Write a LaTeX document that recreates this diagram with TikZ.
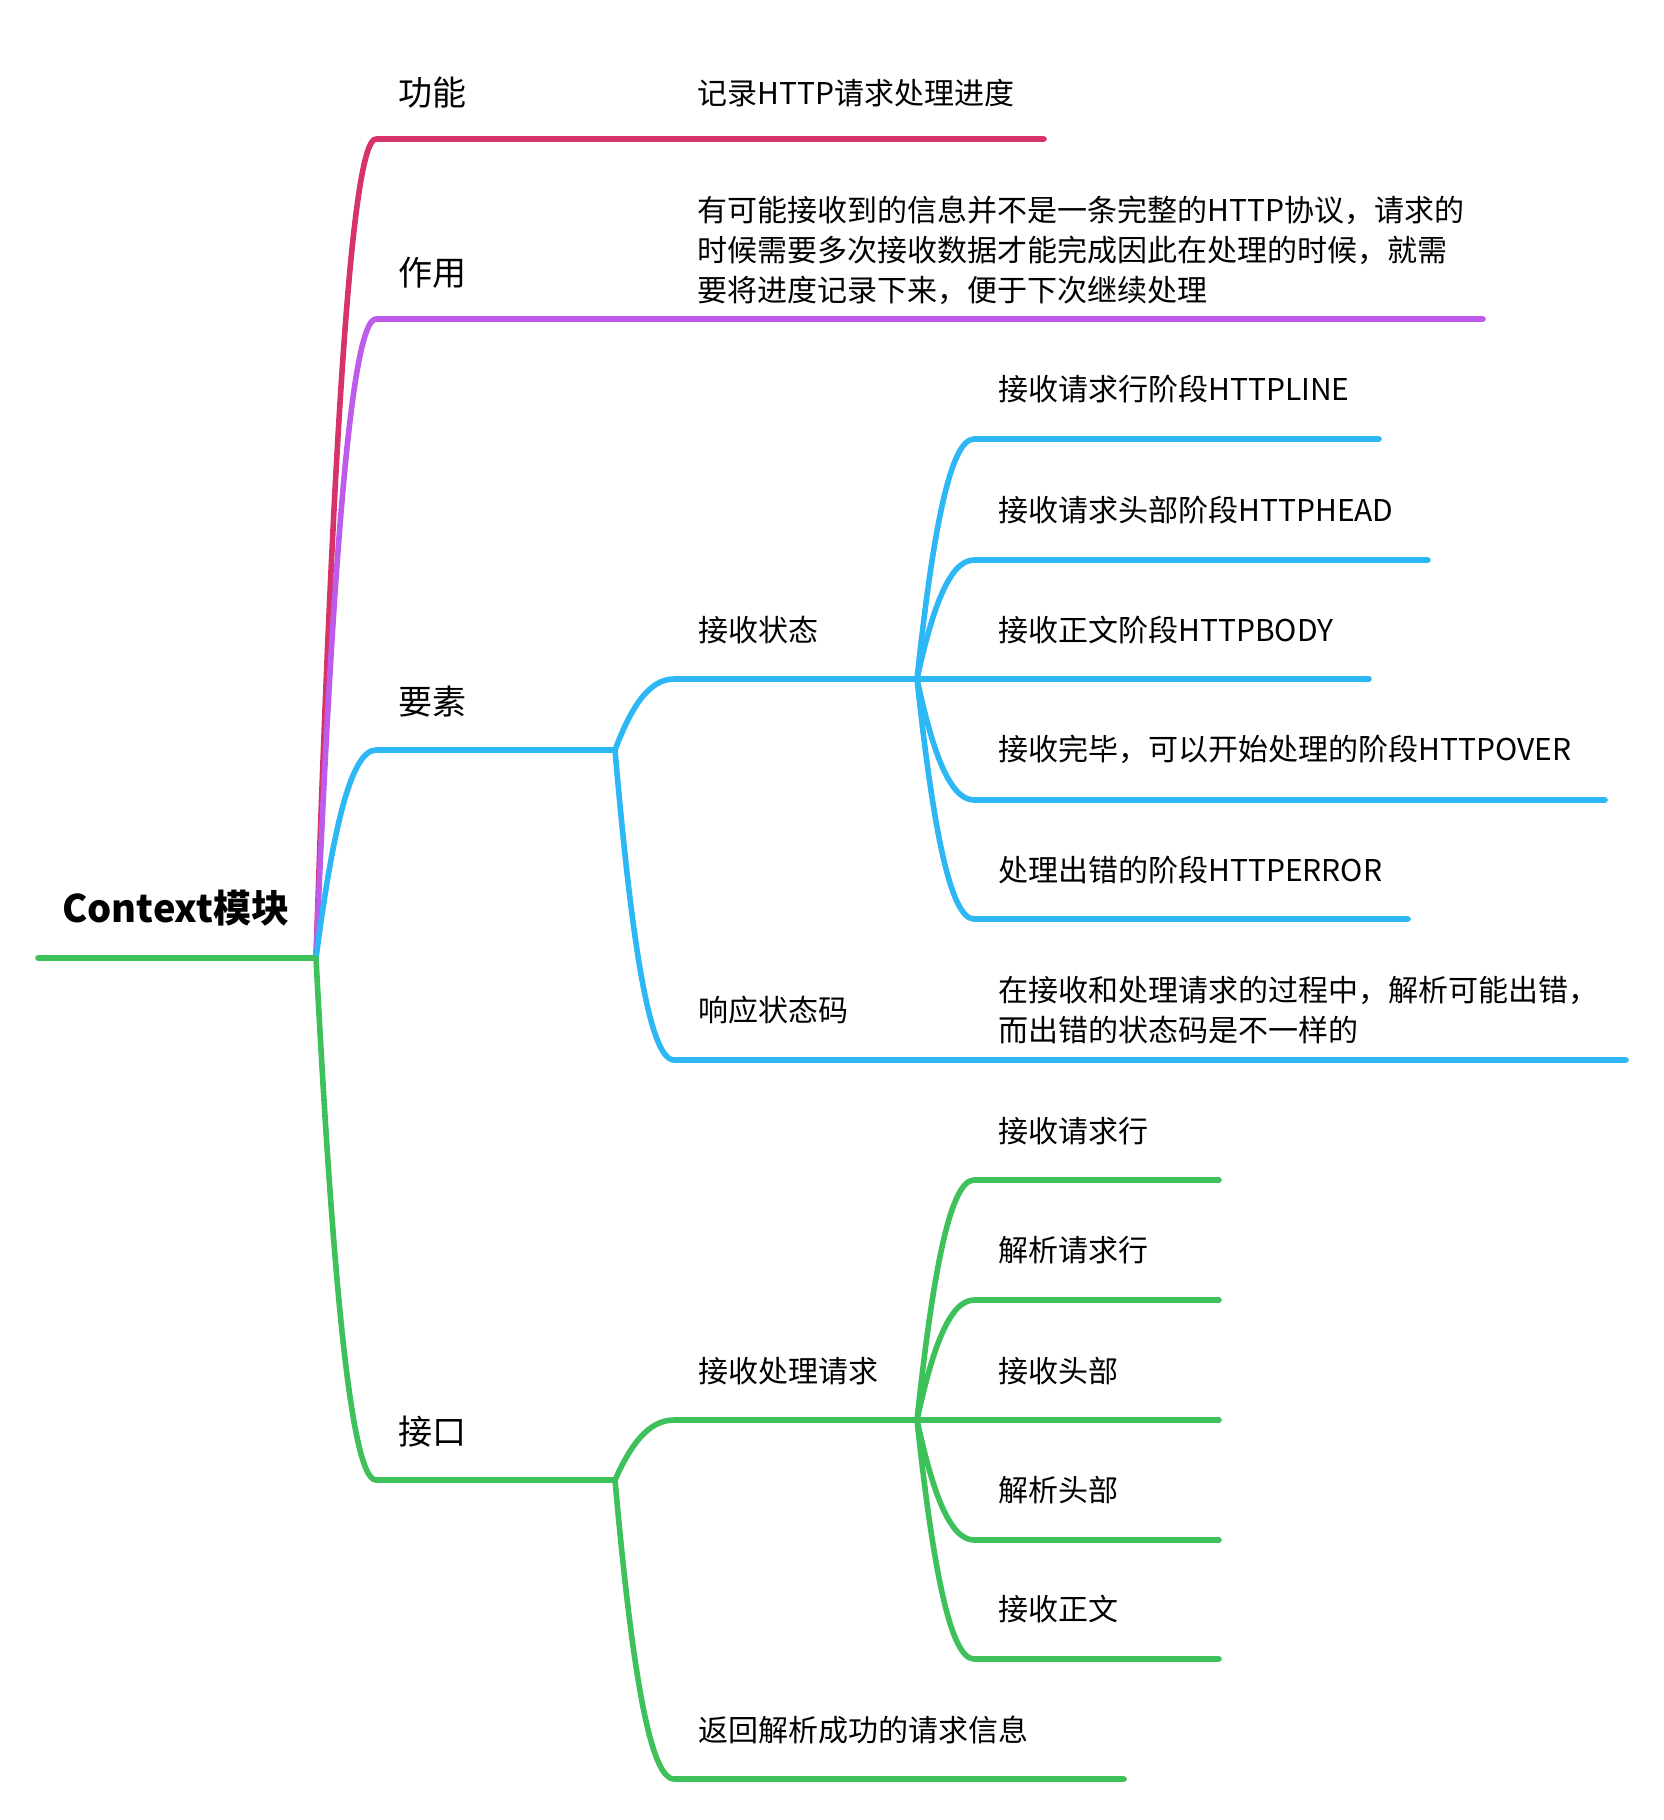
\documentclass[tikz,border=0pt]{standalone}
\usepackage{fontspec}
\setmainfont{Noto Sans CJK SC}
\usetikzlibrary{calc}
\definecolor{mred}{HTML}{D63468}
\definecolor{mpurple}{HTML}{BD5BEB}
\definecolor{mblue}{HTML}{2DB7F5}
\definecolor{mgreen}{HTML}{3EC05A}
\tikzset{
  branch/.style={to path={let \p1=(\tikztostart), \p2=(\tikztotarget) in
    .. controls ({\x1+0.25*(\x2-\x1)},{\y1+0.55*(\y2-\y1)}) and ({\x2-0.45*(\x2-\x1)},{\y2}) .. (\tikztotarget)}},
  edge line/.style={line width=2.8pt, line cap=round, line join=round},
  topic/.style={anchor=west, inner sep=0pt, font=\fontsize{15}{20}\selectfont, align=left},
  maintopic/.style={anchor=west, inner sep=0pt, font=\fontsize{17}{22}\selectfont},
  roottopic/.style={anchor=west, inner sep=0pt, font=\fontsize{19}{24}\selectfont\bfseries}
}
\begin{document}
\begin{tikzpicture}[x=0.5pt,y=-0.5pt]
\useasboundingbox (0,0) rectangle (1664,1820);
%\draw[step=100,gray,very thin] (0,0) grid (1664,1820);

% root
\node[roottopic] (root) at (62,908) {Context模块};
\coordinate (r0) at (38,958);
\coordinate (o) at (316,958);
\draw[edge line,mgreen] (r0) -- (o);

% first level
\coordinate (c1) at (376,139);  \coordinate (e1) at (1044,139);
\coordinate (c2) at (376,319);  \coordinate (e2) at (1483,319);
\coordinate (c3) at (376,750);  \coordinate (p3) at (615,750);
\coordinate (c4) at (376,1480); \coordinate (p4) at (615,1480);
\draw[edge line,mred] (o) to[branch] (c1) -- (e1);
\draw[edge line,mpurple] (o) to[branch] (c2) -- (e2);
\draw[edge line,mblue] (o) to[branch] (c3) -- (p3);
\draw[edge line,mgreen] (o) to[branch] (c4) -- (p4);
\node[maintopic] (gongneng) at (398,93) {功能};
\node[topic] (gongnengtxt) at (697,93) {记录HTTP请求处理进度};
\node[maintopic] (zuoyong) at (398,273) {作用};
\node[topic] (zuoyongtxt) at (697,250) {有可能接收到的信息并不是一条完整的HTTP协议，请求的\\时候需要多次接收数据才能完成因此在处理的时候，就需\\要将进度记录下来，便于下次继续处理};
\node[maintopic] (yaosu) at (398,702) {要素};
\node[maintopic] (jiekou) at (398,1432) {接口};

% yaosu
\coordinate (b1c) at (674,679);  \coordinate (b1) at (917,679);
\coordinate (b2c) at (674,1060); \coordinate (b2e) at (1626,1060);
\draw[edge line,mblue] (p3) to[branch] (b1c) -- (b1);
\draw[edge line,mblue] (p3) to[branch] (b2c) -- (b2e);
\node[topic] (jszt) at (698,630) {接收状态};
\node[topic] (xyztm) at (698,1010) {响应状态码};
\node[topic] (xyztmtxt) at (998,1010) {在接收和处理请求的过程中，解析可能出错，\\而出错的状态码是不一样的};

\coordinate (s1c) at (974,439); \coordinate (s1e) at (1379,439);
\coordinate (s2c) at (974,560); \coordinate (s2e) at (1428,560);
\coordinate (s3c) at (974,679); \coordinate (s3e) at (1369,679);
\coordinate (s4c) at (974,800); \coordinate (s4e) at (1605,800);
\coordinate (s5c) at (974,919); \coordinate (s5e) at (1408,919);
\draw[edge line,mblue] (b1) to[branch] (s1c) -- (s1e);
\draw[edge line,mblue] (b1) to[branch] (s2c) -- (s2e);
\draw[edge line,mblue] (b1) -- (s3c) -- (s3e);
\draw[edge line,mblue] (b1) to[branch] (s4c) -- (s4e);
\draw[edge line,mblue] (b1) to[branch] (s5c) -- (s5e);
\node[topic] (sline) at (998,389) {接收请求行阶段HTTPLINE};
\node[topic] (shead) at (998,510) {接收请求头部阶段HTTPHEAD};
\node[topic] (sbody) at (998,630) {接收正文阶段HTTPBODY};
\node[topic] (sover) at (998,749) {接收完毕，可以开始处理的阶段HTTPOVER};
\node[topic] (serror) at (998,870) {处理出错的阶段HTTPERROR};

% jiekou
\coordinate (g1c) at (674,1420); \coordinate (g1) at (917,1420);
\coordinate (g2c) at (674,1779); \coordinate (g2e) at (1124,1779);
\draw[edge line,mgreen] (p4) to[branch] (g1c) -- (g1);
\draw[edge line,mgreen] (p4) to[branch] (g2c) -- (g2e);
\node[topic] (jsclqq) at (698,1371) {接收处理请求};
\node[topic] (fhxx) at (698,1730) {返回解析成功的请求信息};

\coordinate (t1c) at (974,1180); \coordinate (t1e) at (1219,1180);
\coordinate (t2c) at (974,1300); \coordinate (t2e) at (1219,1300);
\coordinate (t3c) at (974,1420); \coordinate (t3e) at (1219,1420);
\coordinate (t4c) at (974,1540); \coordinate (t4e) at (1219,1540);
\coordinate (t5c) at (974,1659); \coordinate (t5e) at (1219,1659);
\draw[edge line,mgreen] (g1) to[branch] (t1c) -- (t1e);
\draw[edge line,mgreen] (g1) to[branch] (t2c) -- (t2e);
\draw[edge line,mgreen] (g1) -- (t3c) -- (t3e);
\draw[edge line,mgreen] (g1) to[branch] (t4c) -- (t4e);
\draw[edge line,mgreen] (g1) to[branch] (t5c) -- (t5e);
\node[topic] (jsqqh) at (998,1131) {接收请求行};
\node[topic] (jxqqh) at (998,1250) {解析请求行};
\node[topic] (jstb) at (998,1371) {接收头部};
\node[topic] (jxtb) at (998,1490) {解析头部};
\node[topic] (jszw) at (998,1609) {接收正文};
\end{tikzpicture}
\end{document}
